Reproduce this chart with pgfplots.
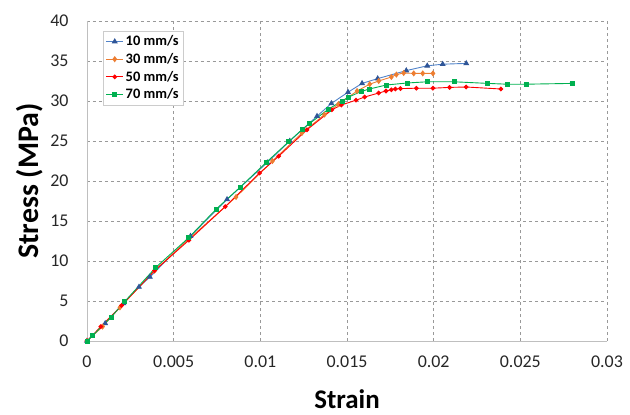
\documentclass[border=0pt]{standalone}
\usepackage{pgfplots}
\pgfplotsset{compat=1.18}
\usepackage{fontspec}
\setmainfont{Carlito}
\definecolor{c10}{RGB}{80,130,200}
\definecolor{c10m}{RGB}{47,85,151}
\definecolor{c30}{RGB}{237,125,49}
\definecolor{c50}{RGB}{255,0,0}
\definecolor{c70}{RGB}{0,176,80}
\begin{document}
\begin{tikzpicture}
\useasboundingbox (-87bp,-74bp) rectangle (543bp,341bp);
\begin{axis}[
  at={(0,0)}, anchor=south west,
  scale only axis, width=520bp, height=320bp,
  xmin=0, xmax=0.03, ymin=0, ymax=40,
  xtick={0,0.005,0.01,0.015,0.02,0.025,0.03},
  xticklabels={0,0.005,0.01,0.015,0.02,0.025,0.03},
  ytick={0,5,...,40},
  scaled x ticks=false,
  /pgf/number format/assume math mode=true,
  tick label style={font=\fontsize{18}{20}\selectfont, text=black!85},
  major tick length=0pt,
  xticklabel style={yshift=-11bp},
  yticklabel style={xshift=-15bp},
  axis x line*=bottom, axis y line*=left,
  axis line style={black!25, -},
  grid=major,
  major grid style={black!40, dashed, line width=0.8pt},
  xlabel={\textbf{Strain}},
  ylabel={\textbf{Stress (MPa)}},
  xlabel style={font=\fontsize{27}{29}\selectfont, yshift=-15bp},
  ylabel style={font=\fontsize{30}{32}\selectfont, yshift=0bp},
  legend style={at={(0.03,0.97)}, anchor=north west, draw=black!20,
    font=\bfseries\fontsize{14.5}{16}\selectfont, row sep=2pt, inner sep=3pt},
  legend cell align=left,
  every axis plot/.append style={line width=0.9pt},
]
\addplot[c10, mark=triangle*, mark size=2.6pt, mark options={fill=c10m, draw=c10m}] coordinates {
(0,0) (0.00105,2.2) (0.0021,4.7) (0.003,6.75) (0.00363,8.0) (0.00597,13.1) (0.00808,17.7) (0.0104,22.3) (0.0117,25.0) (0.01327,28.1) (0.0141,29.7) (0.01506,31.1) (0.01587,32.2) (0.01677,32.8) (0.01842,33.8) (0.01963,34.4) (0.02052,34.6) (0.02188,34.7)};
\addlegendentry{10 mm/s}
\addplot[c30, mark=diamond*, mark size=2.4pt, mark options={fill=c30}] coordinates {
(0,0) (0.0009,1.8) (0.0019,4.2) (0.0039,8.8) (0.0059,12.8) (0.0086,18.0) (0.0107,22.5) (0.0124,26.0) (0.0137,28.3) (0.0145,29.6) (0.01558,31.25) (0.01631,32.1) (0.01683,32.5) (0.01756,33.0) (0.01785,33.3) (0.01827,33.5) (0.01885,33.45) (0.01937,33.45) (0.01996,33.45)};
\addlegendentry{30 mm/s}
\addplot[c50, mark=*, mark size=1.9pt, mark options={fill=c50}] coordinates {
(0,0) (0.0008,1.8) (0.002,4.45) (0.0039,8.8) (0.00588,12.6) (0.00798,16.8) (0.00996,21.0) (0.01106,23.1) (0.01269,26.4) (0.01413,28.9) (0.01467,29.5) (0.01552,30.1) (0.01602,30.5) (0.01683,31.0) (0.01725,31.25) (0.01756,31.4) (0.01779,31.5) (0.01808,31.55) (0.019,31.6) (0.01996,31.6) (0.02092,31.7) (0.02187,31.75) (0.02388,31.5)};
\addlegendentry{50 mm/s}
\addplot[c70, mark=square*, mark size=2pt, mark options={fill=c70}] coordinates {
(0,0) (0.00034,0.7) (0.0014,3.0) (0.00216,4.9) (0.00397,9.2) (0.00586,12.9) (0.00746,16.5) (0.00885,19.25) (0.01033,22.3) (0.01163,24.9) (0.01244,26.5) (0.01285,27.2) (0.01394,29.0) (0.01471,30.0) (0.0151,30.5) (0.01583,31.2) (0.01629,31.5) (0.01727,32.0) (0.01846,32.25) (0.01962,32.4) (0.02119,32.4) (0.02313,32.2) (0.02423,32.1) (0.02533,32.1) (0.02798,32.2)};
\addlegendentry{70 mm/s}
\end{axis}
\end{tikzpicture}
\end{document}
